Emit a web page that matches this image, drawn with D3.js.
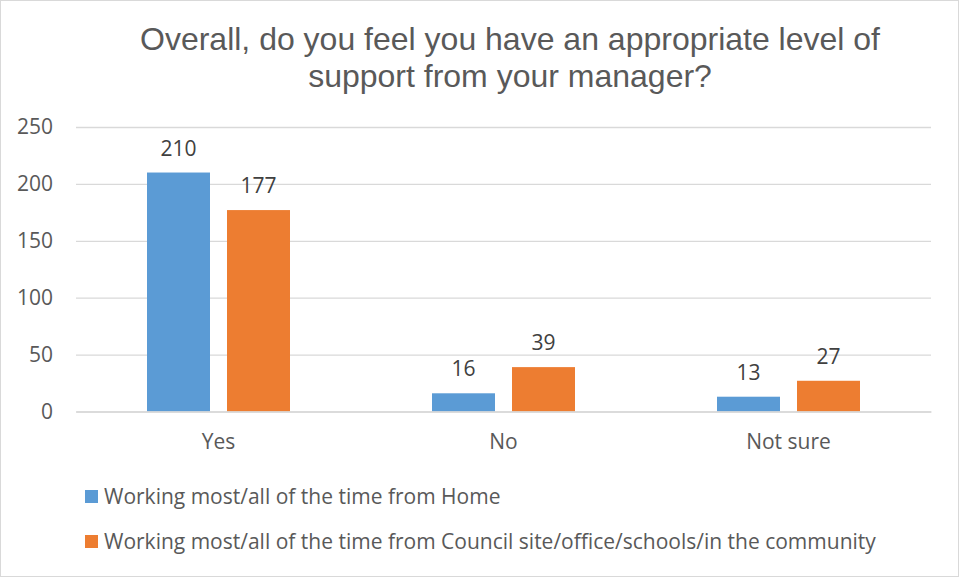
<!DOCTYPE html>
<html><head><meta charset="utf-8">
<script src="https://cdn.jsdelivr.net/npm/d3@7"></script>
<style>body{margin:0;background:#fff}svg{display:block}</style>
</head><body>
<svg id="c" width="959" height="577"></svg>
<script>
const categories = ["Yes", "No", "Not sure"];
const seriesNames = ["Working most/all of the time from Home",
  "Working most/all of the time from Council site/office/schools/in the community"];
const homeValues = [210, 16, 13];
const siteValues = [177, 39, 27];
const yTicks = [0, 50, 100, 150, 200, 250];
const colors = ["#5b9bd5", "#ed7d31"];
const titleLines = ["Overall, do you feel you have an appropriate level of", "support from your manager?"];

const svg = d3.select("#c");
const W = 959, H = 577;
const font = "'Open Sans', 'Noto Sans', sans-serif";
const fs = 21;
svg.append("rect").attr("x",0.5).attr("y",0.5).attr("width",W-1).attr("height",H-1)
  .attr("fill","#fff").attr("stroke","#d9d9d9");

const x0 = d3.scaleBand().domain(categories).range([76, 931]);
const x1 = d3.scaleBand().domain([0,1]).range([0, 143]).paddingInner(17/80);
const y = d3.scaleLinear().domain([0, 250]).range([411.5, 127]);

// title
svg.append("g").selectAll("text").data(titleLines).join("text")
  .attr("x", 510).attr("y", (d,i)=>50 + i*37)
  .attr("text-anchor","middle").attr("font-family","'Liberation Sans', Arial, sans-serif")
  .attr("font-size", 32).attr("fill","#595959").text(d=>d);

// grid
const yAxis = svg.append("g").attr("transform","translate(76,0)")
  .call(d3.axisLeft(y).tickValues(yTicks).tickSize(-(931-76)));
yAxis.select(".domain").remove();
yAxis.selectAll(".tick line").attr("stroke","#d9d9d9").attr("stroke-width",1.3);
yAxis.selectAll(".tick text").attr("fill","#595959").attr("font-size",fs).attr("font-family",font)
  .attr("x", -23);

// bars
const data = categories.map((c,i)=>({c, vals:[homeValues[i], siteValues[i]]}));
const groups = svg.append("g").selectAll("g").data(data).join("g")
  .attr("transform", d=>`translate(${x0(d.c) + (x0.bandwidth()-143)/2},0)`);
groups.selectAll("rect").data(d=>d.vals).join("rect")
  .attr("x",(d,i)=>x1(i)).attr("width",x1.bandwidth())
  .attr("y",d=>y(d)).attr("height",d=>y(0)-y(d))
  .attr("fill",(d,i)=>colors[i]);
groups.selectAll("text").data(d=>d.vals).join("text")
  .attr("x",(d,i)=>x1(i)+x1.bandwidth()/2).attr("y",d=>y(d)-17)
  .attr("text-anchor","middle").attr("font-family",font).attr("font-size",fs)
  .attr("fill","#404040").text(d=>d);

// x axis labels
const xAxis = svg.append("g").attr("transform",`translate(0,${y(0)})`)
  .call(d3.axisBottom(x0).tickSize(0).tickPadding(23));
xAxis.select(".domain").attr("stroke","#d9d9d9").attr("stroke-width",1.3);
xAxis.selectAll(".tick text").attr("fill","#595959").attr("font-size",fs).attr("font-family",font);

// legend
const leg = svg.append("g").selectAll("g").data(seriesNames).join("g")
  .attr("transform",(d,i)=>`translate(85,${490 + i*45})`);
leg.append("rect").attr("width",13).attr("height",13).attr("fill",(d,i)=>colors[i]);
leg.append("text").attr("x",19).attr("y",6.5).attr("dy","0.35em")
  .attr("font-family",font).attr("font-size",fs).attr("fill","#595959").text(d=>d);
</script>
</body></html>
